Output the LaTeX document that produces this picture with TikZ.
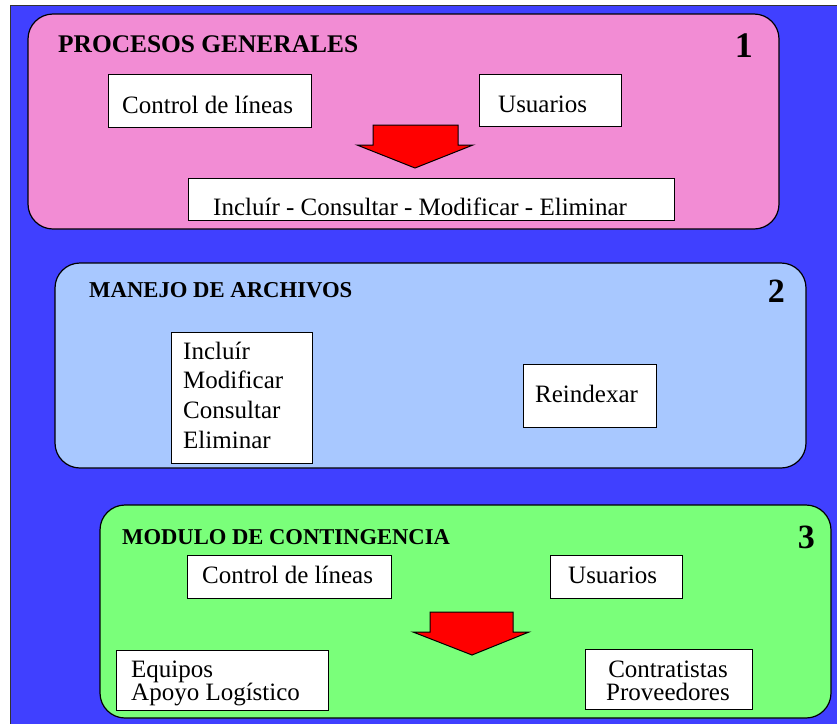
\documentclass[tikz,border=0pt]{standalone}
\usepackage{fontspec}
\newfontfamily\tnr{Liberation Serif}
\newcommand{\bodytext}[1]{{\tnr\fontsize{25}{30}\selectfont #1}}
\definecolor{bgblue}{RGB}{64,64,255}
\definecolor{pinkp}{RGB}{242,140,212}
\definecolor{bluep}{RGB}{168,200,255}
\definecolor{greenp}{RGB}{122,255,122}
\definecolor{arrred}{RGB}{255,0,0}
\tikzset{
  panel/.style={draw=black, line width=1.2pt, rounded corners=25pt},
  wbox/.style={draw=black, line width=1pt, fill=white},
  txt/.style={anchor=base west, inner sep=0pt},
  ttl/.style={anchor=base west, inner sep=0pt, font=\tnr\bfseries\fontsize{#1}{#1}\selectfont},
  num/.style={anchor=base east, inner sep=0pt, font=\tnr\bfseries\fontsize{#1}{#1}\selectfont},
  bigarrow/.style={draw=black, line width=1pt, fill=arrred}
}
\begin{document}
\begin{tikzpicture}[x=1pt,y=-1pt]
\useasboundingbox (0,0) rectangle (837,723);
\begin{scope}
\clip (0,0) rectangle (837,723);
\draw[fill=bgblue, draw=black!80, line width=1pt] (10.5,5.5) rectangle (845,730);
\end{scope}

% Panel 1
\draw[panel, fill=pinkp] (28,14) rectangle (779,229);
\node[ttl=25.4] (t1) at (58,52) {PROCESOS GENERALES};
\node[num=36] (n1) at (753,57) {1};
\draw[wbox] (108,74) rectangle (311,127);
\node[txt] (a1) at (122,113) {\bodytext{Control de líneas}};
\draw[wbox] (479,74) rectangle (621,126);
\node[txt] (a2) at (498,112) {\bodytext{Usuarios}};
\draw[bigarrow] (373,125) -- (458,125) -- (458,145) -- (473,145) -- (415,168) -- (357,145) -- (373,145) -- cycle;
\draw[wbox] (188,178) rectangle (674,220);
\node[txt] (a3) at (213,215) {\bodytext{Incluír - Consultar - Modificar - Eliminar}};

% Panel 2
\draw[panel, fill=bluep] (55,263) rectangle (806,468);
\node[ttl=22.7] (t2) at (89,297) {MANEJO DE ARCHIVOS};
\node[num=34] (n2) at (785,302) {2};
\draw[wbox] (171,332) rectangle (312,463);
\node[txt] (b1) at (183,359) {\bodytext{Incluír}};
\node[txt] (b2) at (183,388.7) {\bodytext{Modificar}};
\node[txt] (b3) at (183,418.4) {\bodytext{Consultar}};
\node[txt] (b4) at (183,448) {\bodytext{Eliminar}};
\draw[wbox] (523,364) rectangle (656,427);
\node[txt] (b5) at (535,402) {\bodytext{Reindexar}};

% Panel 3
\draw[panel, fill=greenp] (100,505) rectangle (831,718);
\node[ttl=22.6] (t3) at (122,544) {MODULO DE CONTINGENCIA};
\node[num=34] (n3) at (815,548) {3};
\draw[wbox] (187,555) rectangle (391,598);
\node[txt] (c1) at (202,583) {\bodytext{Control de líneas}};
\draw[wbox] (550,555) rectangle (682,598);
\node[txt] (c2) at (568,583) {\bodytext{Usuarios}};
\draw[bigarrow] (430,612) -- (513,612) -- (513,632) -- (529,632) -- (472,655) -- (413,632) -- (430,632) -- cycle;
\draw[wbox] (116,650) rectangle (328,710);
\node[txt] (c3) at (131,677) {\bodytext{Equipos}};
\node[txt] (c4) at (131,700) {\bodytext{Apoyo Logístico}};
\draw[wbox] (585,649) rectangle (752,709);
\node[txt, anchor=base] (c5) at (668,677) {\bodytext{Contratistas}};
\node[txt, anchor=base] (c6) at (668,700) {\bodytext{Proveedores}};
\end{tikzpicture}
\end{document}
